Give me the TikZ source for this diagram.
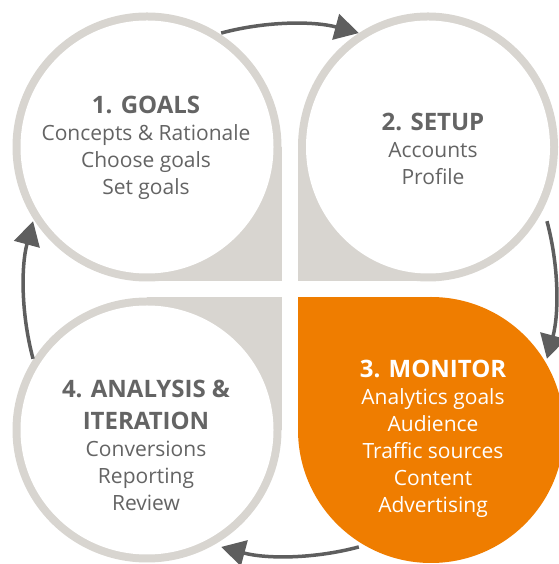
\documentclass[tikz,border=0pt]{standalone}
\usepackage{fontspec}
\setmainfont{Open Sans}
\usetikzlibrary{arrows.meta}
\definecolor{ringgray}{HTML}{D8D5D0}
\definecolor{textgray}{HTML}{646464}
\definecolor{arrowgray}{HTML}{5E5E5E}
\definecolor{monitororange}{HTML}{EF7D00}
\tikzset{
  ring/.style={fill=ringgray},
  inner/.style={fill=white},
  stagetext/.style={align=center, text=textgray, font=\fontsize{21}{27}\selectfont},
  cyclearrow/.style={draw=arrowgray, line width=3.5pt, -{Triangle[length=24pt,width=26pt]}},
}
\newcommand{\stagetitle}[1]{{\fontsize{24}{27}\selectfont\bfseries #1}}

\begin{document}
\begin{tikzpicture}[x=1pt,y=1pt]
        \useasboundingbox (0,0) rectangle (558,564);
        \coordinate (mid) at (290,274);

        % 1. goals (corner to bottom right)
        \fill[ring] (147,417) circle (134.5);
        \fill[ring] (147,417) rectangle (281.5,282.5);
        \fill[inner] (147,417) circle (126.5);

        % 2. setup (corner to bottom left)
        \fill[ring] (428,417) ellipse (130 and 134.5);
        \fill[ring] (428,417) rectangle (298,282.5);
        \fill[inner] (428,417) ellipse (122 and 126.5);

        % 3. monitor (corner to top left)
        \fill[monitororange] (431,134) circle (133);
        \fill[monitororange] (431,134) rectangle (298,267);

        % 4. analysis (corner to top right)
        \fill[ring] (147,134) ellipse (134.5 and 132.5);
        \fill[ring] (147,134) rectangle (281.5,266.5);
        \fill[inner] (147,134) ellipse (126.5 and 124.5);

        % labels
        \node[stagetext] (goals) at (146,416)
          {\stagetitle{1. GOALS}\\Concepts \& Rationale\\Choose goals\\Set goals};
        \node[stagetext] (setup) at (433,415)
          {\stagetitle{2. SETUP}\\Accounts\\Profile};
        \node[stagetext, text=white] (monitor) at (433,125)
          {\stagetitle{3. MONITOR}\\Analytics goals\\Audience\\Traffic sources\\Content\\Advertising};
        \node[stagetext] (analysis) at (146,119)
          {\stagetitle{4. ANALYSIS \&}\\[5pt]\stagetitle{ITERATION}\\Conversions\\Reporting\\Review};

        % arrows round the cycle
        \foreach \a in {90,0,-90,180}{
          \draw[cyclearrow] ([shift={(\a+15:266)}]mid) arc[start angle=\a+15, end angle=\a-15, radius=266];
        }
\end{tikzpicture}
\end{document}
